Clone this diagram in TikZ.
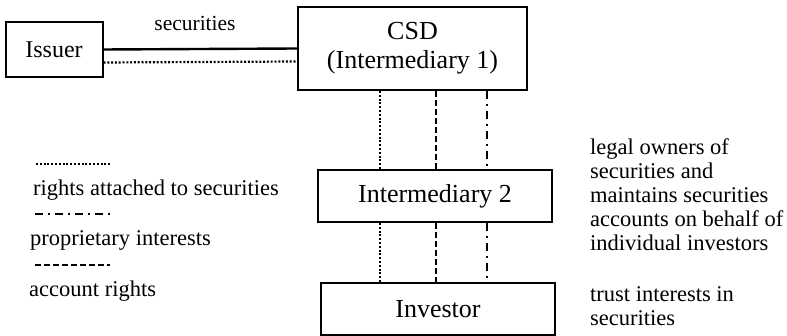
\documentclass[tikz,border=0pt]{standalone}
\usepackage{fontspec}
\setmainfont{Liberation Serif}
\usetikzlibrary{positioning}

\begin{document}
\begin{tikzpicture}[x=1pt, y=-1pt,
        party/.style={draw, line width=2pt, inner sep=0pt, font=\fontsize{26}{29}\selectfont},
        note/.style={anchor=west, align=left, inner sep=0pt, font=\fontsize{22.5}{24}\selectfont},
        rights/.style={line width=2.2pt, dash pattern=on 2pt off 1.8pt},
        propint/.style={line width=2.2pt, dash pattern=on 8pt off 5pt on 2pt off 5pt},
        acct/.style={line width=2.2pt, dash pattern=on 6pt off 3pt}]
        \useasboundingbox (0,0) rectangle (787,336);
        \node[party, minimum width=97pt, minimum height=55pt, font=\fontsize{24}{27}\selectfont] (issuer) at (54,49.5) {Issuer};
        \node[party, minimum width=229pt, minimum height=83pt, align=center] (csd) at (412.5,48.5) {CSD\\(Intermediary 1)};
        \node[party, minimum width=234pt, minimum height=52pt] (interm) at (435,196) {Intermediary 2};
        \node[party, minimum width=234pt, minimum height=52pt] (investor) at (438,309) {Investor};
        \node[font=\fontsize{21.5}{24}\selectfont] (secs) at (195,23) {securities};
        \draw[line width=2.4pt] (issuer.east) -- (csd.west);
        \draw[rights] ([yshift=-13pt]issuer.east) -- ([yshift=-13pt]csd.west);
        \draw[rights] (csd.south -| 380,0) -- (interm.north -| 380,0);
        \draw[acct] (csd.south -| 436,0) -- (interm.north -| 436,0);
        \draw[propint] (csd.south -| 487,0) -- (interm.north -| 487,0);
        \draw[rights] (interm.south -| 380,0) -- (investor.north -| 380,0);
        \draw[acct] (interm.south -| 436,0) -- (investor.north -| 436,0);
        \draw[propint] (interm.south -| 487,0) -- (investor.north -| 487,0);
        % legend
        \coordinate (rl) at (36,164);
        \coordinate (rr) at (110,164);
        \coordinate (pl) at (35,214);
        \coordinate (pr) at (112,214);
        \coordinate (al) at (35,265);
        \coordinate (ar) at (110,265);
        \draw[rights, line width=1.6pt] (rl) -- (rr);
        \draw[propint, line width=1.8pt] (pl) -- (pr);
        \draw[acct, line width=1.8pt] (al) -- (ar);
        \node[note] (rightstxt) at (33,190) {rights attached to securities};
        \node[note] (proptxt) at (30,240) {proprietary interests};
        \node[note] (accttxt) at (29,291) {account rights};
        % side notes
        \node[note] (legal) at (590,195) {legal owners of\\securities and\\maintains securities\\accounts on behalf of\\individual investors};
        \node[note] (trust) at (590,306) {trust interests in\\securities};
\end{tikzpicture}
\end{document}
